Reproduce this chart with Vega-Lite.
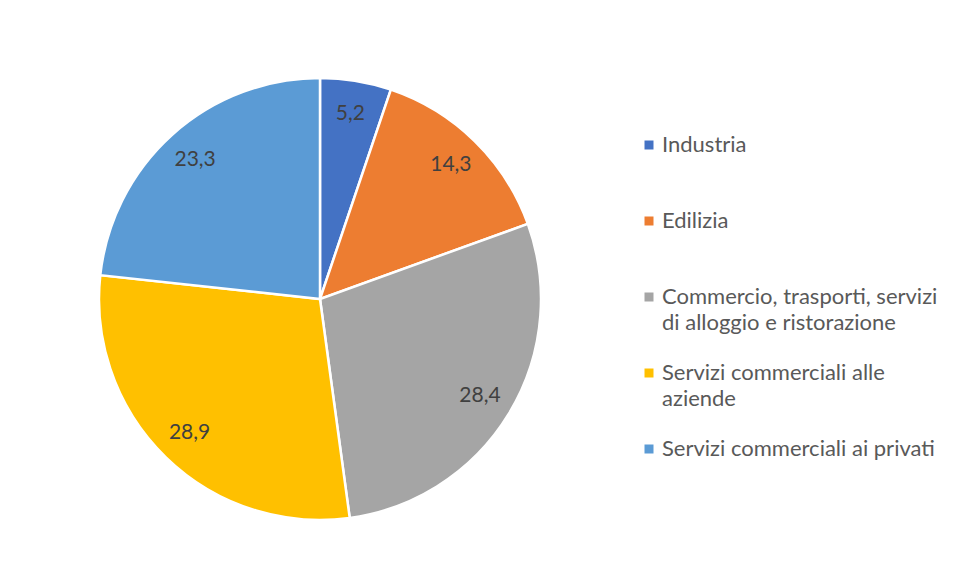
{
  "$schema": "https://vega.github.io/schema/vega-lite/v6.json",
  "autosize": "none",
  "width": 442,
  "height": 442,
  "padding": {"left": 99, "top": 78, "right": 416, "bottom": 61},
  "background": "white",
  "config": {
    "view": {"stroke": null},
    "style": {"guide-label": {"lineHeight": 26, "dy": 7}},
    "locale": {"number": {"decimal": ",", "thousands": ".", "grouping": [3], "currency": ["", " €"]}}
  },
  "data": {
    "values": [
      {"settore": "Industria", "valore": 5.2, "ord": 1},
      {"settore": "Edilizia", "valore": 14.3, "ord": 2},
      {"settore": "Commercio, trasporti, servizi di alloggio e ristorazione", "valore": 28.4, "ord": 3},
      {"settore": "Servizi commerciali alle aziende", "valore": 28.9, "ord": 4},
      {"settore": "Servizi commerciali ai privati", "valore": 23.3, "ord": 5}
    ]
  },
  "encoding": {
    "theta": {"field": "valore", "type": "quantitative", "stack": true},
    "order": {"field": "ord", "type": "quantitative"}
  },
  "layer": [
    {
      "mark": {"type": "arc", "outerRadius": 221, "stroke": "white", "strokeWidth": 2.5},
      "encoding": {
        "color": {
          "field": "settore",
          "type": "nominal",
          "sort": {"field": "ord"},
          "scale": {
            "domain": ["Industria", "Edilizia", "Commercio, trasporti, servizi di alloggio e ristorazione", "Servizi commerciali alle aziende", "Servizi commerciali ai privati"],
            "range": ["#4472C4", "#ED7D31", "#A5A5A5", "#FFC000", "#5B9BD5"]
          },
          "legend": {
            "title": null,
            "orient": "none",
            "legendX": 539,
            "legendY": 56,
            "symbolType": "square",
            "symbolSize": 81,
            "symbolStrokeWidth": 0,
            "labelFont": "Lato",
            "labelFontSize": 22,
            "labelColor": "#595959",
            "labelLimit": 400,
            "labelOffset": 2,
            "gridAlign": "all",
            "rowPadding": 28,
            "labelBaseline": "alphabetic",
            "labelExpr": "datum.label == 'Commercio, trasporti, servizi di alloggio e ristorazione' ? ['Commercio, trasporti, servizi', 'di alloggio e ristorazione'] : datum.label == 'Servizi commerciali alle aziende' ? ['Servizi commerciali alle', 'aziende'] : datum.label"
          }
        }
      }
    },
    {
      "mark": {"type": "text", "radius": 187, "font": "Lato", "fontSize": 21, "color": "#404040"},
      "encoding": {
        "text": {"field": "valore", "type": "quantitative", "format": ".1f"}
      }
    }
  ]
}
